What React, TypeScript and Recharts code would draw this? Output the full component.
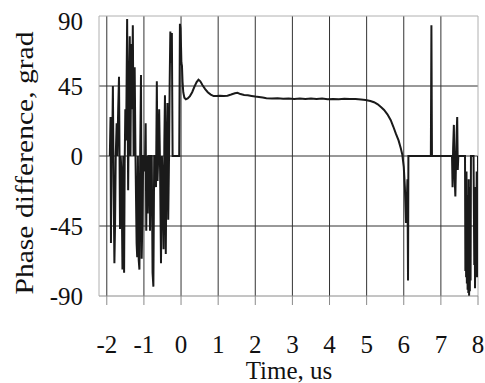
import React from 'react';
import { LineChart, Line, XAxis, YAxis, CartesianGrid, ReferenceLine, Label } from 'recharts';

// Noisy section before t = 0 (time in us, phase in grad)
const NOISE_TIME = [
  -1.918, -1.899, -1.888, -1.874, -1.852, -1.836, -1.816, -1.795, -1.778, -1.759,
  -1.734, -1.718, -1.693, -1.671, -1.644, -1.625, -1.603, -1.578, -1.556, -1.534,
  -1.518, -1.501, -1.479, -1.452, -1.425, -1.403, -1.381, -1.362, -1.342, -1.321,
  -1.299, -1.277, -1.249, -1.227, -1.197, -1.181, -1.162, -1.14, -1.121, -1.101,
  -1.079, -1.06, -1.041, -1.019, -0.997, -0.975, -0.953, -0.937, -0.921, -0.899,
  -0.879, -0.855, -0.836, -0.816, -0.789, -0.767, -0.745, -0.723, -0.696, -0.674,
  -0.652, -0.633, -0.614, -0.589, -0.564, -0.54, -0.515, -0.493, -0.471, -0.449,
  -0.433, -0.411, -0.389, -0.367, -0.345, -0.323, -0.307, -0.288, -0.268, -0.247,
  -0.227, -0.049,
];
const NOISE_PHASE = [
  0, 25, -56, 0, 10, 45, -20, -69, -45, 0,
  21, 0, 30, 51, -47, 0, -12, -73, 0, -75,
  -5, 30, 10, 88, -22, 40, 77, 0, 72, 30,
  84, 0, 57, 0, -56, -65, 0, -67, -73, 0,
  52, -66, -40, 0, 0, -10, 21, -48, 0, -37,
  0, 0, -48, 0, 0, -75, -84, 0, 0, -20,
  48, -16, 0, 30, -10, -69, 0, -20, -60, 10,
  39, -63, 0, 34, -41, 0, 45, 80, 60, 79,
  0, 0,
];

// Smooth response after t = 0
const SMOOTH_TIME = [
  -0.03, -0.015, 0.0, 0.01, 0.025, 0.04, 0.06, 0.09, 0.13, 0.18,
  0.24, 0.3, 0.36, 0.42, 0.47, 0.52, 0.58, 0.65, 0.72, 0.8,
  0.88, 0.96, 1.05, 1.15, 1.25, 1.35, 1.45, 1.52, 1.6, 1.7,
  1.8, 1.9, 2.0, 2.1, 2.2, 2.3, 2.45, 2.6, 2.75, 2.9,
  3.05, 3.2, 3.35, 3.5, 3.65, 3.8, 3.95, 4.1, 4.25, 4.4,
  4.55, 4.7, 4.85, 4.97, 5.1, 5.2, 5.3, 5.4, 5.47, 5.56,
  5.65, 5.72, 5.79, 5.86, 5.92, 5.96, 6.0, 6.03, 6.06, 6.08,
  6.1, 6.115, 6.125,
];
const SMOOTH_PHASE = [
  85, 82, 70, 60, 58, 48, 41, 37.5, 36.5, 37,
  38.5, 41, 44.5, 47.5, 49, 48, 45.5, 43, 41, 39.5,
  38.5, 38.5, 38.8, 38.6, 38.8, 39.5, 40.3, 40.6, 39.8, 39.2,
  39, 38.6, 38.2, 38, 37.6, 37.2, 37, 37.2, 36.8, 37,
  36.7, 37, 36.6, 36.9, 36.7, 36.9, 36.5, 36.7, 36.5, 36.8,
  36.6, 36.6, 36.3, 36, 35.4, 34.6, 33.2, 31.2, 29.6, 26.8,
  23, 18.8, 14.2, 10, 5, 1, -7, -20, -43, -30,
  -15, -80, 0,
];

// Tail after the signal drops out
const TAIL_TIME = [
  6.73, 6.745, 6.76, 7.3, 7.315, 7.33, 7.35, 7.365, 7.39, 7.41,
  7.425, 7.44, 7.455, 7.47, 7.65, 7.66, 7.67, 7.68, 7.69, 7.7,
  7.71, 7.72, 7.73, 7.74, 7.75, 7.76, 7.77, 7.78, 7.79, 7.8,
  7.81, 7.88, 7.9, 7.91, 7.92, 7.935, 7.95, 7.965, 7.975, 7.99,
  8.0,
];
const TAIL_PHASE = [
  0, 84, 0, 0, -20, 5, 20, -10, -26, 0,
  15, 25, -9, 0, 0, -74, -30, -78, -10, -82,
  -25, -86, -40, -88, -15, -90, -60, -87, -20, -80,
  0, 0, -70, -20, -85, -30, -78, -10, -69, -78,
  0,
];

const X_TICKS = [-2, -1, 0, 1, 2, 3, 4, 5, 6, 7, 8];
const Y_TICKS = [-90, -45, 0, 45, 90];
const X_GRID = [-2, -1, 0, 1, 2, 3, 4, 5, 6, 7];
const Y_GRID = [-45, 0, 45];

const X_TITLE = 'Time, us';
const Y_TITLE = 'Phase difference, grad';

const data = [
  ...NOISE_TIME.map((t, i) => ({ t, v: NOISE_PHASE[i] })),
  ...SMOOTH_TIME.map((t, i) => ({ t, v: SMOOTH_PHASE[i] })),
  ...TAIL_TIME.map((t, i) => ({ t, v: TAIL_PHASE[i] })),
];

const FONT = '"Liberation Serif", "Times New Roman", serif';

const YTick = (props: any) => {
  const { x, y, payload } = props;
  const shift = payload.value === 90 ? 5 : 0;
  return (
    <text
      x={x}
      y={y + shift}
      dy="0.35em"
      textAnchor="end"
      fill="#111"
      fontSize={25}
      fontFamily={FONT}
    >
      {payload.value}
    </text>
  );
};

export default function App() {
  return (
    <div style={{ position: 'absolute', left: 0, top: 0, width: 485, height: 383 }}>
      <LineChart
        width={485}
        height={383}
        data={data}
        margin={{ top: 16, right: 7, bottom: 0, left: 0 }}
      >
        <CartesianGrid
          stroke="#333"
          strokeWidth={1}
          horizontalValues={Y_GRID}
          verticalValues={X_GRID}
        />
        <XAxis
          type="number"
          dataKey="t"
          domain={[-2.21, 8]}
          ticks={X_TICKS}
          interval={0}
          allowDataOverflow
          height={87}
          tickSize={9}
          tickMargin={30}
          axisLine={{ stroke: '#8a8a8a' }}
          tickLine={{ stroke: '#8a8a8a' }}
          tick={{ fill: '#111', fontSize: 25, fontFamily: FONT }}
        >
          <Label
            content={() => (
              <text
                x={289}
                y={379}
                textAnchor="middle"
                fill="#111"
                fontSize={25}
                fontFamily={FONT}
              >
                {X_TITLE}
              </text>
            )}
          />
        </XAxis>
        <YAxis
          type="number"
          domain={[-90, 90]}
          ticks={Y_TICKS}
          interval={0}
          width={99}
          tickLine={false}
          tickSize={0}
          tickMargin={16}
          axisLine={{ stroke: '#b0b0b0' }}
          tick={<YTick />}
        >
          <Label
            content={() => (
              <text
                x={24}
                y={163}
                transform="rotate(-90 24 163)"
                textAnchor="middle"
                dominantBaseline="central"
                fill="#111"
                fontSize={26}
                fontFamily={FONT}
                textLength={263}
                lengthAdjust="spacingAndGlyphs"
              >
                {Y_TITLE}
              </text>
            )}
          />
        </YAxis>
        <ReferenceLine y={90} stroke="#b0b0b0" strokeWidth={1} />
        <ReferenceLine x={8} stroke="#b0b0b0" strokeWidth={1} />
        <Line
          type="linear"
          dataKey="v"
          stroke="#1a1a1a"
          strokeWidth={2}
          dot={false}
          activeDot={false}
          isAnimationActive={false}
        />
      </LineChart>
    </div>
  );
}
